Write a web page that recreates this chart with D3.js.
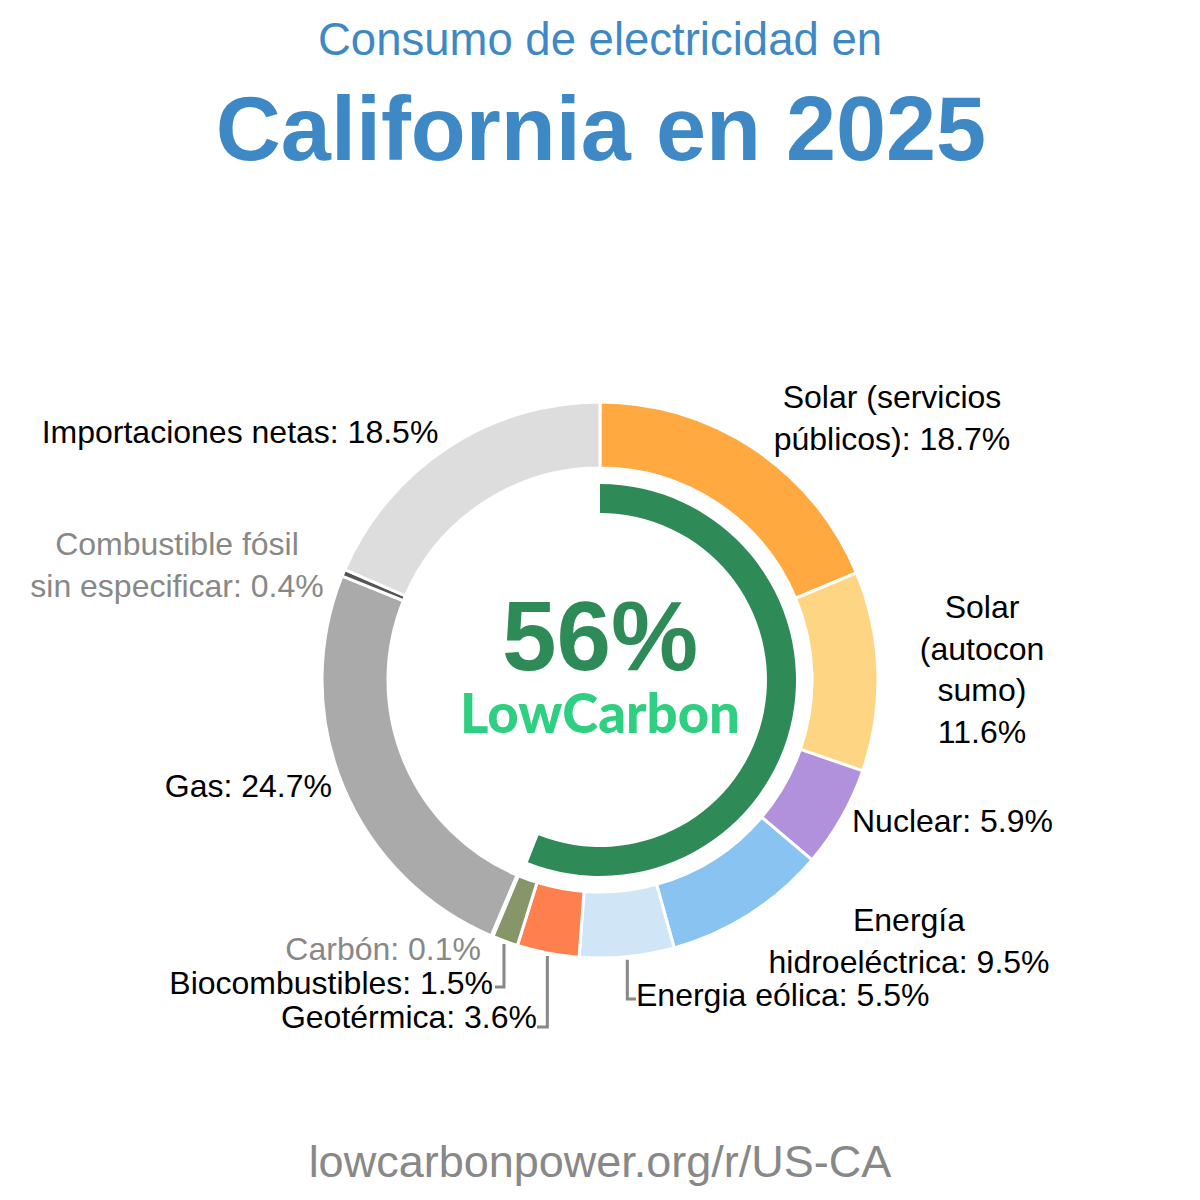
<!DOCTYPE html>
<html>
<head>
<meta charset="utf-8">
<script src="https://cdn.jsdelivr.net/npm/d3@7"></script>
<style>
  body { margin: 0; background: #fff; }
  text { font-family: "Liberation Sans", Arial, sans-serif; }
</style>
</head>
<body>
<script>
// Sources, clockwise from the top
const sources = [
  'Solar (servicios públicos)', 'Solar (autoconsumo)', 'Nuclear',
  'Energía hidroeléctrica', 'Energia eólica', 'Geotérmica',
  'Biocombustibles', 'Carbón', 'Gas',
  'Combustible fósil sin especificar', 'Importaciones netas'
];
const shares = [18.7, 11.6, 5.9, 9.5, 5.5, 3.6, 1.5, 0.1, 24.7, 0.4, 18.5];
const labelLines = [
  ['Solar (servicios', 'públicos): 18.7%'],
  ['Solar', '(autocon', 'sumo)', '11.6%'],
  ['Nuclear: 5.9%'],
  ['Energía', 'hidroeléctrica: 9.5%'],
  ['Energia eólica: 5.5%'],
  ['Geotérmica: 3.6%'],
  ['Biocombustibles: 1.5%'],
  ['Carbón: 0.1%'],
  ['Gas: 24.7%'],
  ['Combustible fósil', 'sin especificar: 0.4%'],
  ['Importaciones netas: 18.5%']
];
const lowCarbonShare = 56;
const titleLines = ['Consumo de electricidad en', 'California en 2025'];
const footer = 'lowcarbonpower.org/r/US-CA';

// styling / layout (kept apart from data)
const colors = ['#ffa940', '#fed683', '#b191dc', '#88c3f2', '#d0e6f6', '#ff7f4f',
                '#879669', '#333333', '#aaaaaa', '#555555', '#dddddd'];
const labelLayout = [
  { x: 892, y: 408, anchor: 'middle' },
  { x: 982, y: 618, anchor: 'middle' },
  { x: 852, y: 832, anchor: 'start' },
  { x: 909, y: 931, anchor: 'middle' },
  { x: 636, y: 1006, anchor: 'start', leader: { y: 999, x: 636 } },
  { x: 537, y: 1028, anchor: 'end', leader: { y: 1027, x: 537 } },
  { x: 493, y: 994, anchor: 'end', leader: { y: 987, x: 495 } },
  { x: 481, y: 960, anchor: 'end', muted: true },
  { x: 332, y: 797, anchor: 'end' },
  { x: 177, y: 555, anchor: 'middle', muted: true },
  { x: 240, y: 443, anchor: 'middle' }
];

const W = 1200, H = 1200;
const cx = 600, cy = 680;
const svg = d3.select('body').append('svg')
  .attr('width', W).attr('height', H);

// Titles
svg.append('text')
  .attr('x', 600).attr('y', 55)
  .attr('text-anchor', 'middle')
  .attr('font-size', 45.5)
  .attr('fill', '#3e89c5')
  .text(titleLines[0]);
svg.append('text')
  .attr('x', 601).attr('y', 160)
  .attr('text-anchor', 'middle')
  .attr('font-size', 90)
  .attr('font-weight', 'bold')
  .attr('fill', '#3e89c5')
  .text(titleLines[1]);

// Donut
const pie = d3.pie().sort(null).value(d => d)(shares);
const arc = d3.arc().innerRadius(212).outerRadius(278);
const g = svg.append('g').attr('transform', `translate(${cx},${cy})`);

g.selectAll('path.slice')
  .data(pie)
  .enter()
  .append('path')
  .attr('class', 'slice')
  .attr('d', arc)
  .attr('fill', (d, i) => colors[i])
  .attr('stroke', '#fff')
  .attr('stroke-width', 3);

// Low-carbon progress ring
const ring = d3.arc()
  .innerRadius(167).outerRadius(196)
  .startAngle(0)
  .endAngle(2 * Math.PI * lowCarbonShare / 100);
g.append('path').attr('d', ring()).attr('fill', '#2e8b57');

g.append('text')
  .attr('x', 0).attr('y', -10)
  .attr('text-anchor', 'middle')
  .attr('font-size', 98)
  .attr('font-weight', 'bold')
  .attr('fill', '#2e8b57')
  .text(`${lowCarbonShare}%`);
g.append('text')
  .attr('x', 0).attr('y', 53)
  .attr('text-anchor', 'middle')
  .style('font-family', 'Lato, sans-serif')
  .attr('font-size', 55)
  .attr('font-weight', 900)
  .attr('fill', '#2ecf80')
  .attr('textLength', 280)
  .attr('lengthAdjust', 'spacingAndGlyphs')
  .text('LowCarbon');

// Leader lines
const leaderR = 281;
pie.forEach((d, i) => {
  const lay = labelLayout[i];
  if (!lay.leader) return;
  const a = (d.startAngle + d.endAngle) / 2;
  const x0 = cx + leaderR * Math.sin(a);
  const y0 = cy - leaderR * Math.cos(a);
  svg.append('path')
    .attr('d', d3.line()([[x0, y0], [x0, lay.leader.y], [lay.leader.x, lay.leader.y]]))
    .attr('fill', 'none')
    .attr('stroke', '#888')
    .attr('stroke-width', 3);
});

// Labels
labelLines.forEach((lines, i) => {
  const lay = labelLayout[i];
  const t = svg.append('text')
    .attr('text-anchor', lay.anchor)
    .attr('font-size', 32)
    .attr('fill', lay.muted ? '#888' : '#000');
  lines.forEach((s, k) => {
    t.append('tspan')
      .attr('x', lay.x)
      .attr('y', lay.y + k * 41.5)
      .text(s);
  });
});

// Footer
svg.append('text')
  .attr('x', 600).attr('y', 1177)
  .attr('text-anchor', 'middle')
  .attr('font-size', 45)
  .attr('fill', '#888')
  .text(footer);
</script>
</body>
</html>
